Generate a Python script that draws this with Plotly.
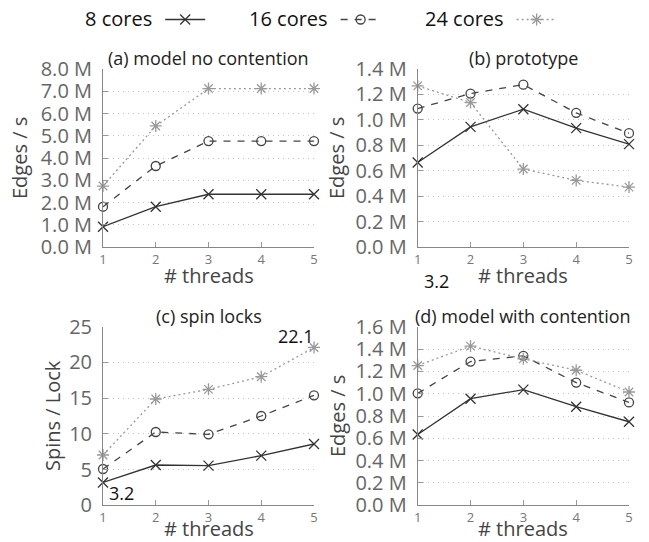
import plotly.graph_objects as go

threads = [1, 2, 3, 4, 5]
series_names = ["8 cores", "16 cores", "24 cores"]

# (a) model no contention, Edges/s in millions
a_8 = [0.91, 1.81, 2.37, 2.37, 2.37]
a_16 = [1.81, 3.64, 4.76, 4.76, 4.76]
a_24 = [2.74, 5.44, 7.12, 7.12, 7.12]

# (b) prototype
b_8 = [0.665, 0.945, 1.084, 0.935, 0.809]
b_16 = [1.089, 1.207, 1.277, 1.055, 0.895]
b_24 = [1.267, 1.136, 0.613, 0.524, 0.471]

# (c) spin locks, spins per lock
c_8 = [3.2, 5.64, 5.55, 6.95, 8.58]
c_16 = [5.08, 10.26, 9.93, 12.5, 15.39]
c_24 = [7.04, 14.88, 16.23, 18.0, 22.1]

# (d) model with contention
d_8 = [0.634, 0.955, 1.036, 0.883, 0.748]
d_16 = [1.003, 1.288, 1.339, 1.099, 0.922]
d_24 = [1.252, 1.426, 1.312, 1.21, 1.015]

titles = ["(a) model no contention", "(b) prototype", "(c) spin locks", "(d) model with contention"]
ytitles = ["Edges / s", "Edges / s", "Spins / Lock", "Edges / s"]
xtitle = "# threads"
ymax = [8, 1.4, 25, 1.6]
ydtick = [1, 0.2, 5, 0.2]

FONT = "Open Sans"
W, H = 649, 542
styles = [
    dict(color="#333333", dash="solid", symbol="x-thin-open", size=10),
    dict(color="#444444", dash="7px,7px", symbol="circle-open", size=9),
    dict(color="#9a9a9a", dash="2px,3px", symbol="asterisk-open", size=10),
]

xdom = [[103 / W, 314 / W], [417.7 / W, 629 / W]]
ydom_top = [1 - 247 / H, 1 - 69 / H]
ydom_bot = [1 - 505.3 / H, 1 - 326.7 / H]
domains = [
    (xdom[0], ydom_top), (xdom[1], ydom_top),
    (xdom[0], ydom_bot), (xdom[1], ydom_bot),
]
ytitle_x = [20, 337, 52, 337]
xtitle_y = [275, 275, 528, 528]

panels = [(a_8, a_16, a_24), (b_8, b_16, b_24), (c_8, c_16, c_24), (d_8, d_16, d_24)]
legends = ["legend", "legend2", "legend3"]

fig = go.Figure()
layout = {}
annotations = []
for i, (vals, (xd, yd)) in enumerate(zip(panels, domains)):
    n = "" if i == 0 else str(i + 1)
    for j, v in enumerate(vals):
        st = styles[j]
        fig.add_trace(go.Scatter(
            x=threads, y=v, mode="lines+markers", name="",
            xaxis="x" + n, yaxis="y" + n,
            line=dict(color=st["color"], dash=st["dash"], width=1.3),
            marker=dict(symbol=st["symbol"], size=st["size"], color=st["color"],
                        line=dict(color=st["color"], width=1.3)),
            cliponaxis=False,
            showlegend=(i == 0), legend=legends[j],
        ))
    is_m = i != 2
    layout["xaxis" + n] = dict(
        domain=xd, anchor="y" + n, range=[1, 5], tickvals=threads,
        showline=True, linecolor="#888", linewidth=1, showgrid=False,
        ticks="inside", ticklen=5, tickcolor="#999", zeroline=False,
        tickfont=dict(family=FONT, size=13, color="#777"),
    )
    layout["yaxis" + n] = dict(
        domain=yd, anchor="x" + n, range=[0, ymax[i]], dtick=ydtick[i],
        tickformat=".1f" if is_m else "d", ticksuffix=" M" if is_m else "",
        showline=True, linecolor="#888", linewidth=1,
        showgrid=True, gridcolor="#c4c4c4", griddash="1px,4px", gridwidth=1,
        ticks="inside", ticklen=5, tickcolor="#999", zeroline=False,
        ticklabelstandoff=6,
        tickfont=dict(family=FONT, size=20, color="#666"),
    )
    annotations.append(dict(
        text=titles[i], xref="paper", yref="paper",
        x=(xd[0] + xd[1]) / 2, y=yd[1] + 11 / H, xanchor="center", yanchor="middle",
        showarrow=False, font=dict(family=FONT, size=18, color="#222"),
    ))
    annotations.append(dict(
        text=ytitles[i], xref="paper", yref="paper", textangle=-90,
        x=ytitle_x[i] / W, y=(yd[0] + yd[1]) / 2, xanchor="center", yanchor="middle",
        showarrow=False, font=dict(family=FONT, size=20, color="#444"),
    ))
    annotations.append(dict(
        text=xtitle, xref="paper", yref="paper",
        x=(xd[0] + xd[1]) / 2, y=1 - xtitle_y[i] / H, xanchor="center", yanchor="middle",
        showarrow=False, font=dict(family=FONT, size=20, color="#444"),
    ))

# value labels
annotations.append(dict(text=f"{c_8[0]:.1f}", xref="x3", yref="y3", x=threads[0], y=c_8[0],
                        xshift=19, yshift=-11, showarrow=False,
                        font=dict(family=FONT, size=18, color="#111")))
annotations.append(dict(text=f"{c_24[-1]:.1f}", xref="x3", yref="y3", x=threads[-1], y=c_24[-1],
                        xshift=-18, yshift=11, showarrow=False,
                        font=dict(family=FONT, size=18, color="#111")))
annotations.append(dict(text=f"{c_8[0]:.1f}", xref="x2", yref="y2", x=threads[0], y=0,
                        xshift=19, yshift=-34, showarrow=False,
                        font=dict(family=FONT, size=18, color="#111")))

leg_x = [83 / W, 247 / W, 423 / W]
for k, lg in enumerate(legends):
    layout[lg] = dict(
        x=leg_x[k], y=1, xanchor="left", yanchor="top", orientation="h",
        bgcolor="rgba(0,0,0,0)", borderwidth=0,
        title=dict(text=series_names[k], side="left", font=dict(family=FONT, size=20, color="#111")),
        font=dict(family=FONT, size=20, color="#111"),
        itemwidth=40,
    )

fig.update_layout(
    width=W, height=H,
    margin=dict(l=0, r=0, t=0, b=0, autoexpand=False),
    paper_bgcolor="white", plot_bgcolor="white",
    font=dict(family=FONT),
    annotations=annotations,
    **layout,
)
fig.write_html("out.html", config={"displayModeBar": False},
               post_script="document.body.style.margin='0px';")
